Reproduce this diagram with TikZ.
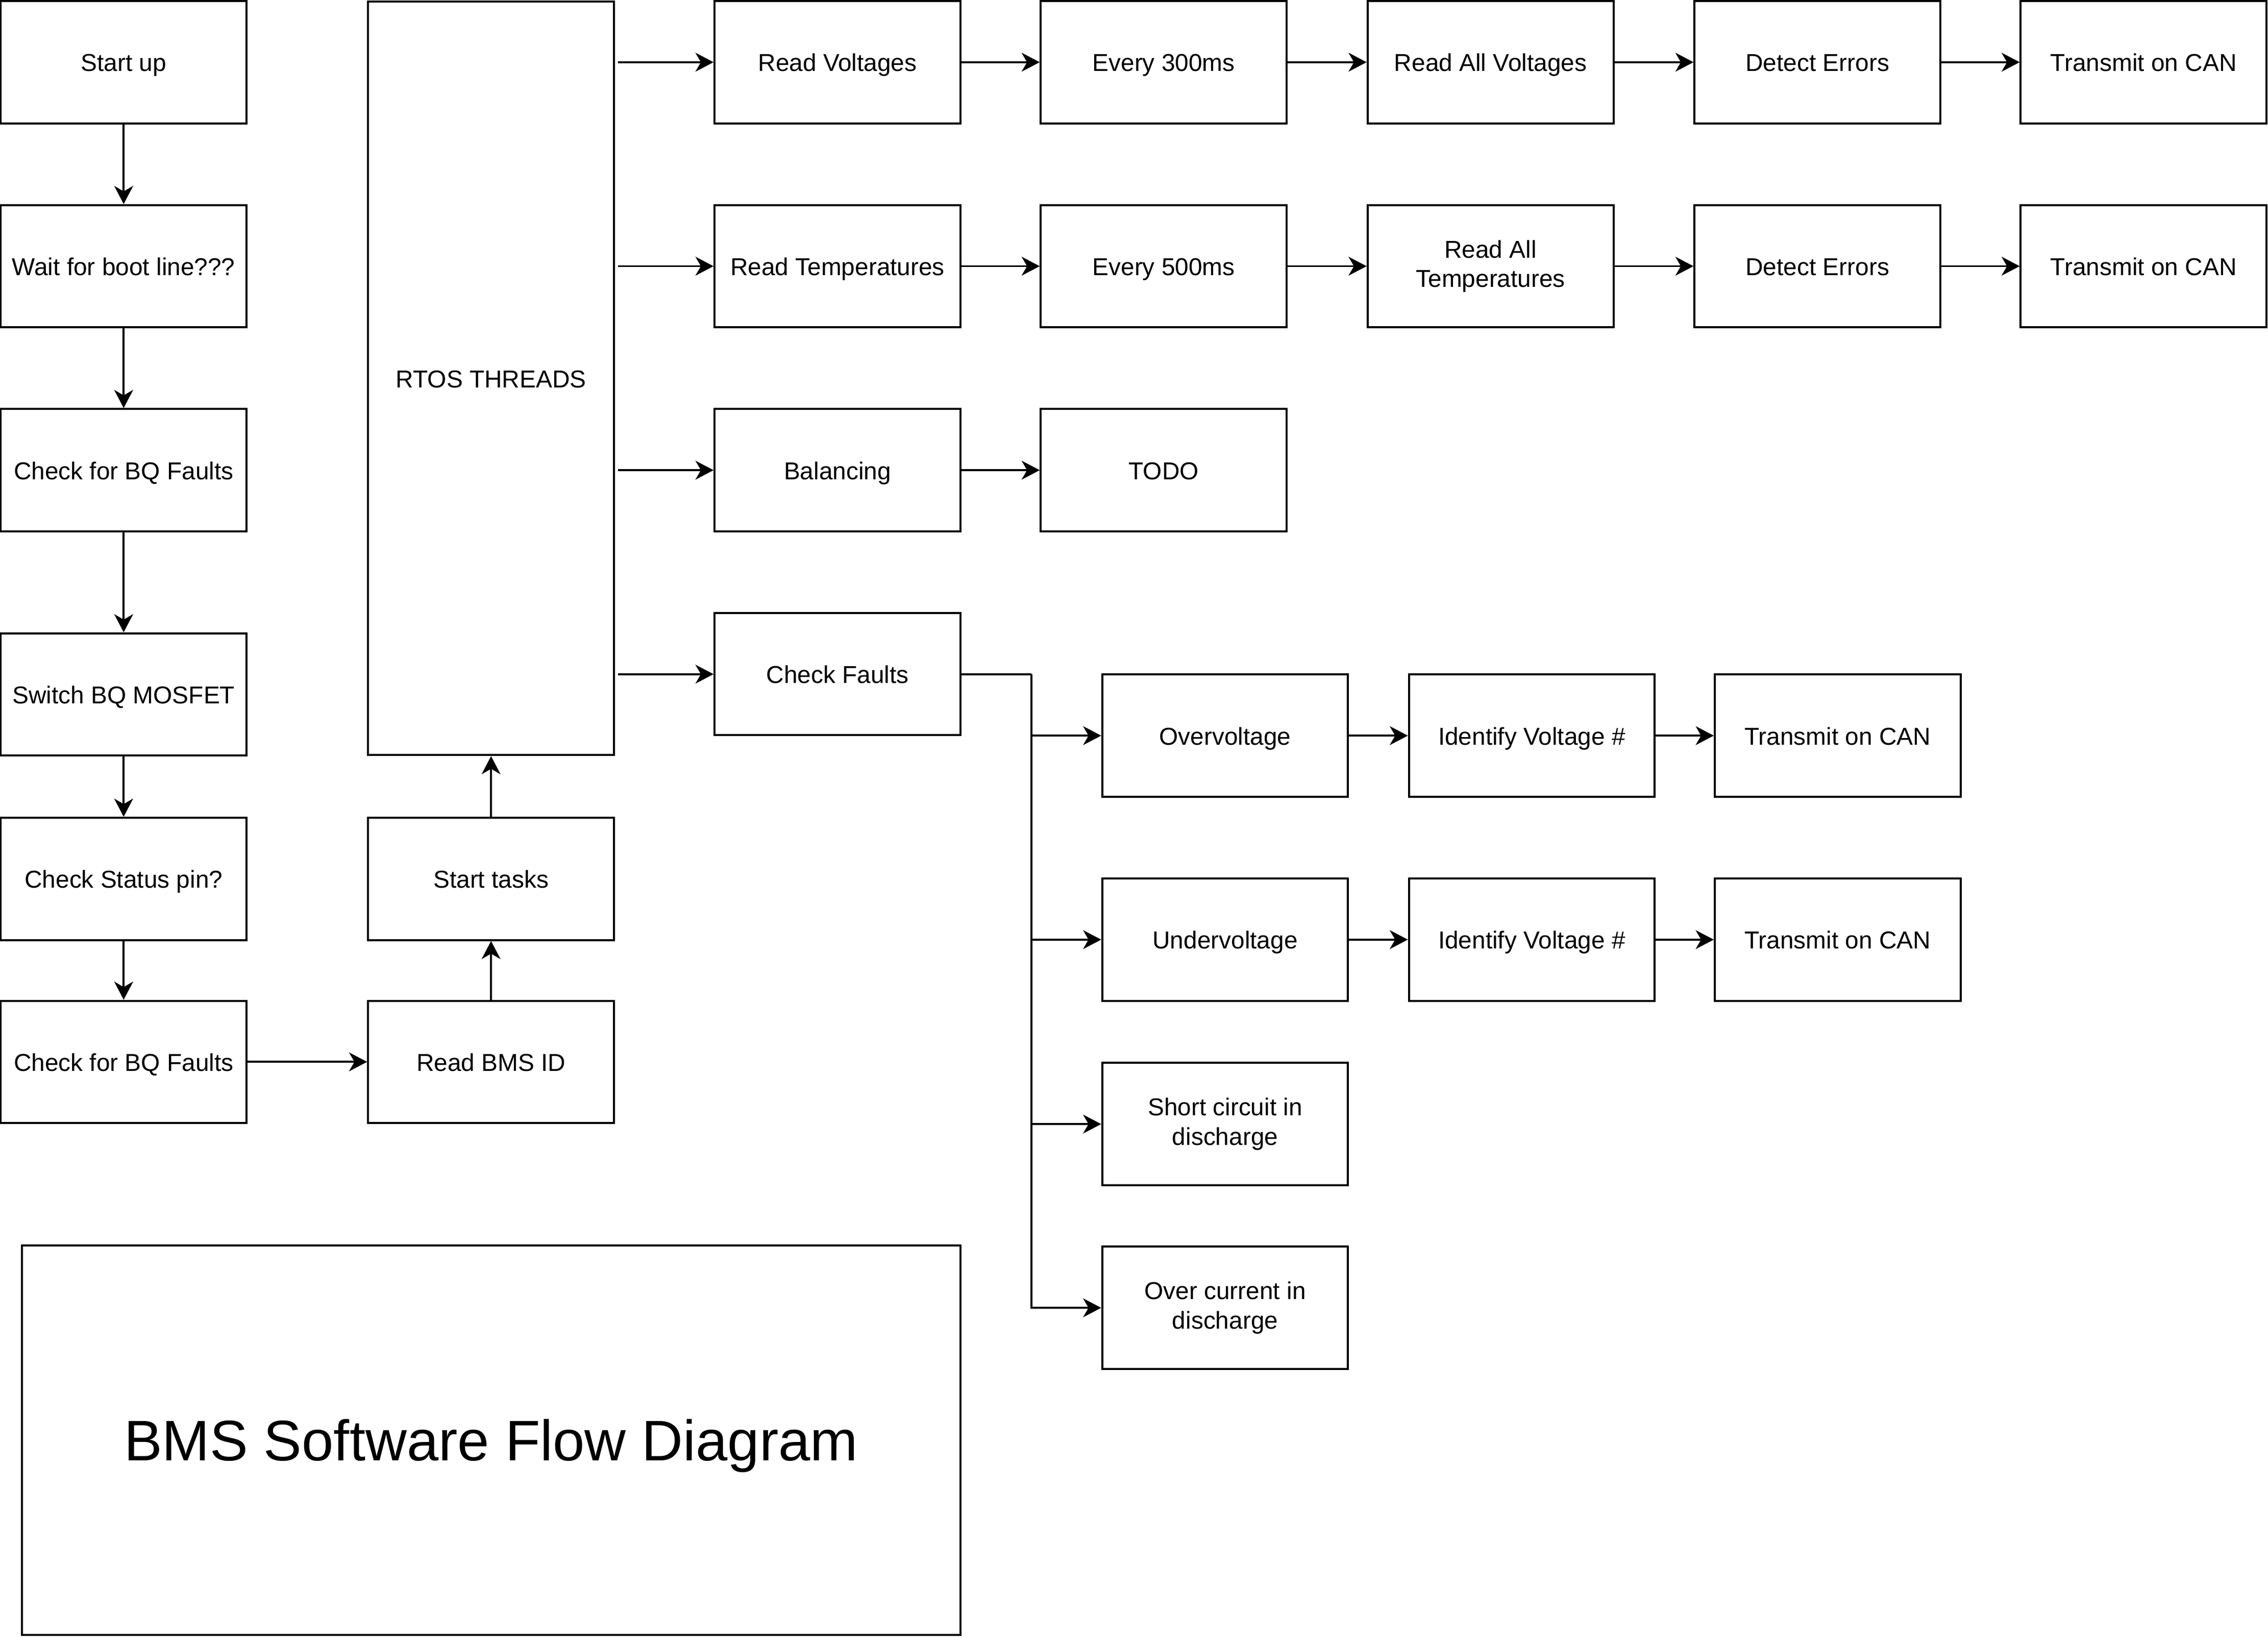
\documentclass[tikz,border=0pt]{standalone}
\usepackage{fontspec}
\setmainfont{Liberation Sans}
\usepackage{tikz}
\usetikzlibrary{arrows.meta, positioning}

\begin{document}
\begin{tikzpicture}[x=0.02cm, y=-0.02cm,
    frame/.style={draw, line width=0.8pt, minimum width=3.4cm, minimum height=1.69cm,
        inner sep=1pt, align=center, font=\fontsize{9.6}{11.5}\selectfont},
    box/.style={frame, text height=0.72em, text depth=0pt},
    boxtwo/.style={frame},
    arrow/.style={line width=0.8pt, -{Stealth[length=2.5mm, width=2.6mm, inset=0.75mm]}},
    wire/.style={line width=0.8pt}]
    \useasboundingbox (0,0) rectangle (1568,1132);
    % start-up sequence
    \node[box] (startup) at (85.5,43) {Start up};
    \node[box] (boot) at (85.5,184) {Wait for boot line???};
    \node[box] (bqfaults) at (85.5,325) {Check for BQ Faults};
    \node[box] (mosfet) at (85.5,480) {Switch BQ MOSFET};
    \node[box] (status) at (85.5,607.5) {Check Status pin?};
    \node[box] (bqfaultstwo) at (85.5,734) {Check for BQ Faults};
    \node[box] (bmsid) at (339.5,734) {Read BMS ID};
    \node[box] (tasks) at (339.5,607.5) {Start tasks};
    \node[box, minimum height=10.42cm] (rtos) at (339.5,261.5) {RTOS THREADS};
    \draw[arrow] (startup) -- (boot);
    \draw[arrow] (boot) -- (bqfaults);
    \draw[arrow] (bqfaults) -- (mosfet);
    \draw[arrow] (mosfet) -- (status);
    \draw[arrow] (status) -- (bqfaultstwo);
    \draw[arrow] (bqfaultstwo) -- (bmsid);
    \draw[arrow] (bmsid) -- (tasks);
    \draw[arrow] (tasks) -- (rtos);
    % threads
    \node[box] (readv) at (579,43) {Read Voltages};
    \node[box] (every300) at (804.5,43) {Every 300ms};
    \node[box] (readallv) at (1030.5,43) {Read All Voltages};
    \node[box] (errorsv) at (1256.5,43) {Detect Errors};
    \node[box] (canv) at (1482,43) {Transmit on CAN};
    \node[box] (readt) at (579,184) {Read Temperatures};
    \node[box] (every500) at (804.5,184) {Every 500ms};
    \node[boxtwo] (readallt) at (1030.5,184) {Read All\\Temperatures};
    \node[box] (errorst) at (1256.5,184) {Detect Errors};
    \node[box] (cant) at (1482,184) {Transmit on CAN};
    \node[box] (balance) at (579,325) {Balancing};
    \node[box] (todo) at (804.5,325) {TODO};
    \node[box] (faults) at (579,466) {Check Faults};
    \foreach \n in {readv,readt,balance,faults}
        \draw[arrow] (rtos.east |- \n.west) ++(2,0) -- (\n.west);
    \draw[arrow] (readv) -- (every300);
    \draw[arrow] (every300) -- (readallv);
    \draw[arrow] (readallv) -- (errorsv);
    \draw[arrow] (errorsv) -- (canv);
    \draw[arrow] (readt) -- (every500);
    \draw[arrow] (every500) -- (readallt);
    \draw[arrow] (readallt) -- (errorst);
    \draw[arrow] (errorst) -- (cant);
    \draw[arrow] (balance) -- (todo);
    % faults
    \node[box] (overv) at (847,508.5) {Overvoltage};
    \node[box] (identov) at (1059,508.5) {Identify Voltage \#};
    \node[box] (canov) at (1270.5,508.5) {Transmit on CAN};
    \node[box] (underv) at (847,649.5) {Undervoltage};
    \node[box] (identuv) at (1059,649.5) {Identify Voltage \#};
    \node[box] (canuv) at (1270.5,649.5) {Transmit on CAN};
    \node[boxtwo] (short) at (847,777) {Short circuit in\\discharge};
    \node[boxtwo] (overc) at (847,904) {Over current in\\discharge};
    \coordinate (bus) at (713,466);
    \draw[wire] (faults.east) -- (bus);
    \foreach \n in {overv,underv,short,overc}
        \draw[arrow] (bus) |- (\n.west);
    \draw[arrow] (overv) -- (identov);
    \draw[arrow] (identov) -- (canov);
    \draw[arrow] (underv) -- (identuv);
    \draw[arrow] (identuv) -- (canuv);
    % title
    \node[frame, minimum width=12.98cm, minimum height=5.38cm, text height=16.2pt, text depth=0pt,
        font=\fontsize{22.5}{27}\selectfont] (title) at (339.5,995.5) {BMS Software Flow Diagram};
\end{tikzpicture}
\end{document}
